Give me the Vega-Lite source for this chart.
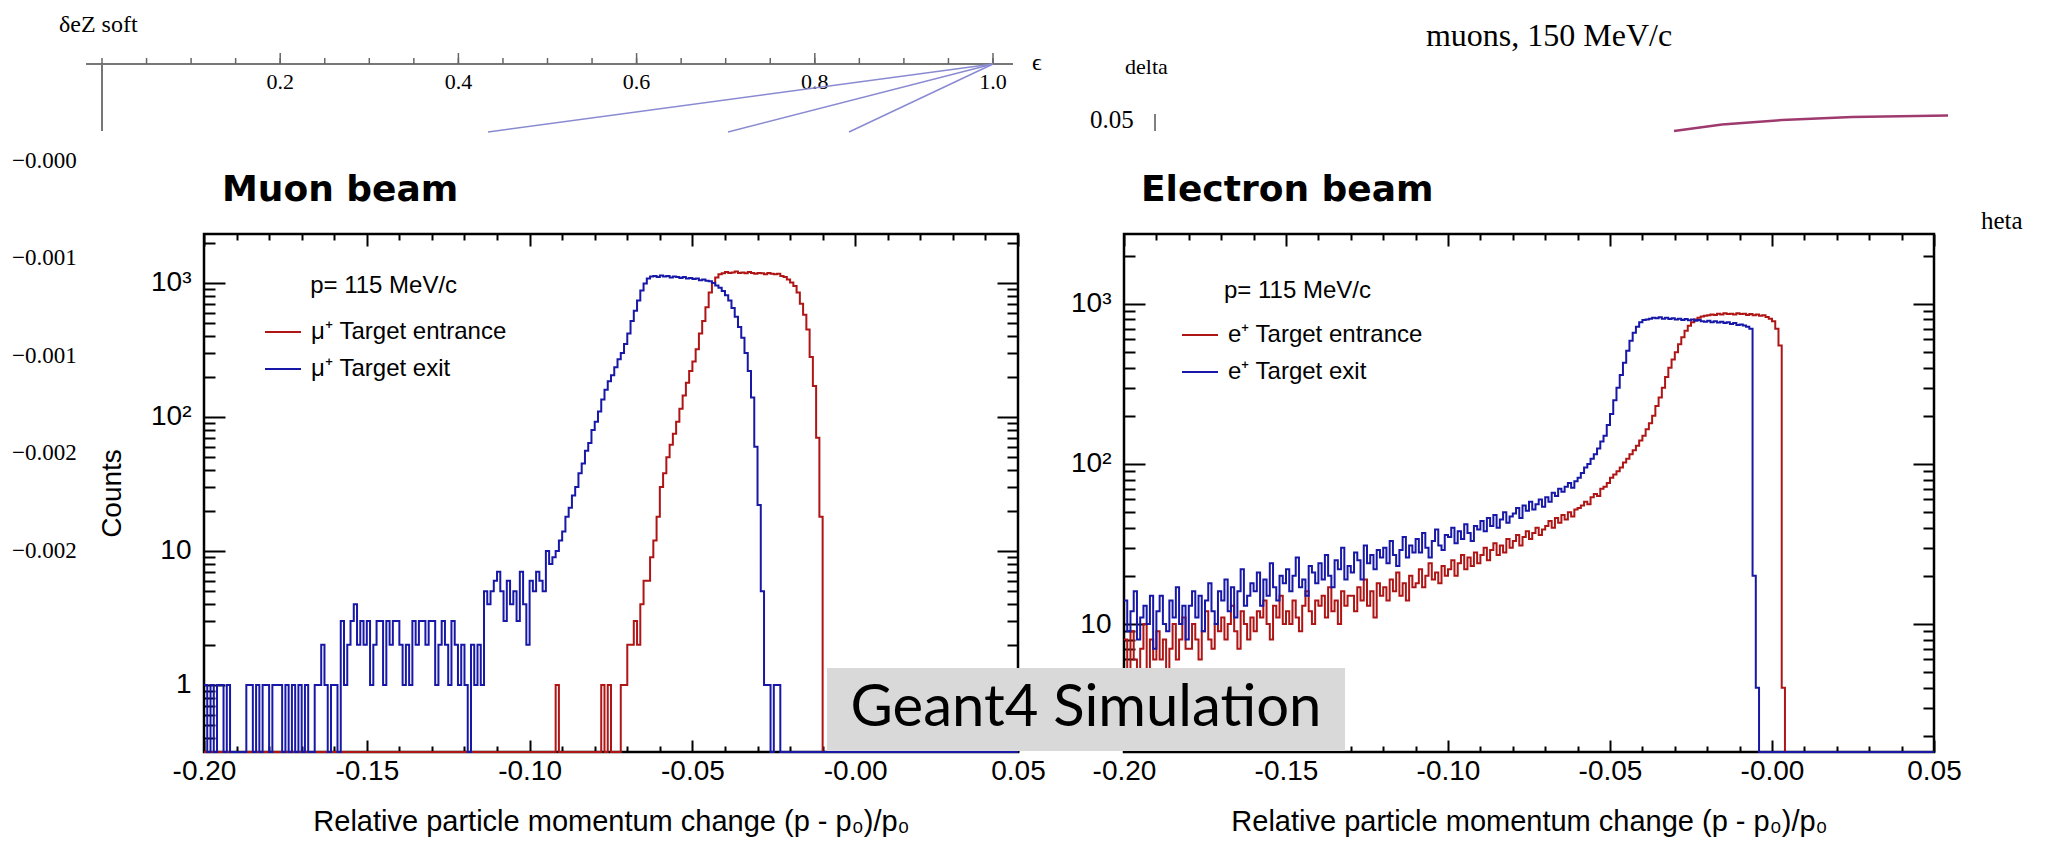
{
"$schema":"https://vega.github.io/schema/vega-lite/v6.json",
"background":"white",
"padding":{"left":10,"top":11,"right":5,"bottom":5},
"config":{
 "view":{"stroke":"black","strokeWidth":2.5},
 "axis":{"domain":false,"grid":false,"labelFont":"Liberation Sans","titleFont":"Liberation Sans","labelColor":"black","titleColor":"black","tickColor":"black","tickWidth":2,"labelFontSize":28,"titleFontSize":29,"titleFontWeight":"normal","labelFlush":false,"labelOverlap":false,"labelBound":false},
 "text":{"color":"black"}
},
"datasets":{
"h":[
{"x":-0.2,"a":0,"b":1,"c":8,"d":14},{"x":-0.199,"a":0,"b":0,"c":5,"d":9},{"x":-0.198,"a":0,"b":1,"c":9,"d":12},{"x":-0.197,"a":0,"b":0,"c":6,"d":16},{"x":-0.196,"a":0,"b":1,"c":4,"d":8},{"x":-0.195,"a":0,"b":1,"c":7,"d":11},{"x":-0.194,"a":0,"b":0,"c":10,"d":13},{"x":-0.193,"a":0,"b":1,"c":5,"d":10},{"x":-0.192,"a":0,"b":0,"c":8,"d":15},{"x":-0.191,"a":0,"b":0,"c":6,"d":7},
{"x":-0.19,"a":0,"b":0,"c":9,"d":12},{"x":-0.189,"a":0,"b":0,"c":6,"d":15},{"x":-0.188,"a":0,"b":0,"c":8,"d":10},{"x":-0.187,"a":0,"b":1,"c":5,"d":9},{"x":-0.186,"a":0,"b":1,"c":7,"d":14},{"x":-0.185,"a":0,"b":0,"c":10,"d":11},{"x":-0.184,"a":0,"b":1,"c":6,"d":17},{"x":-0.183,"a":0,"b":0,"c":8,"d":10},{"x":-0.182,"a":0,"b":1,"c":11,"d":13},{"x":-0.181,"a":0,"b":1,"c":7,"d":8},
{"x":-0.18,"a":0,"b":0,"c":7,"d":13},{"x":-0.179,"a":0,"b":1,"c":10,"d":16},{"x":-0.178,"a":0,"b":1,"c":8,"d":11},{"x":-0.177,"a":0,"b":1,"c":6,"d":15},{"x":-0.176,"a":0,"b":0,"c":9,"d":9},{"x":-0.175,"a":0,"b":1,"c":12,"d":14},{"x":-0.174,"a":0,"b":0,"c":8,"d":18},{"x":-0.173,"a":0,"b":1,"c":7,"d":12},{"x":-0.172,"a":0,"b":0,"c":10,"d":10},{"x":-0.171,"a":0,"b":1,"c":9,"d":16},
{"x":-0.17,"a":0,"b":0,"c":11,"d":14},{"x":-0.169,"a":0,"b":1,"c":8,"d":19},{"x":-0.168,"a":0,"b":0,"c":10,"d":12},{"x":-0.167,"a":0,"b":0,"c":13,"d":17},{"x":-0.166,"a":0,"b":1,"c":9,"d":11},{"x":-0.165,"a":0,"b":1,"c":7,"d":16},{"x":-0.164,"a":0,"b":2,"c":12,"d":22},{"x":-0.163,"a":0,"b":1,"c":10,"d":13},{"x":-0.162,"a":0,"b":0,"c":8,"d":15},{"x":-0.161,"a":0,"b":1,"c":11,"d":18},
{"x":-0.16,"a":0,"b":1,"c":9,"d":16},{"x":-0.159,"a":0,"b":0,"c":12,"d":21},{"x":-0.158,"a":0,"b":3,"c":11,"d":13},{"x":-0.157,"a":0,"b":1,"c":14,"d":19},{"x":-0.156,"a":0,"b":2,"c":10,"d":15},{"x":-0.155,"a":0,"b":3,"c":8,"d":24},{"x":-0.154,"a":0,"b":4,"c":13,"d":17},{"x":-0.153,"a":0,"b":2,"c":11,"d":14},{"x":-0.152,"a":0,"b":3,"c":15,"d":20},{"x":-0.151,"a":0,"b":2,"c":10,"d":18},
{"x":-0.15,"a":0,"b":3,"c":12,"d":22},{"x":-0.149,"a":0,"b":1,"c":10,"d":16},{"x":-0.148,"a":0,"b":2,"c":14,"d":20},{"x":-0.147,"a":0,"b":3,"c":11,"d":26},{"x":-0.146,"a":0,"b":3,"c":9,"d":17},{"x":-0.145,"a":0,"b":1,"c":13,"d":19},{"x":-0.144,"a":0,"b":3,"c":16,"d":15},{"x":-0.143,"a":0,"b":2,"c":12,"d":23},{"x":-0.142,"a":0,"b":3,"c":10,"d":21},{"x":-0.141,"a":0,"b":3,"c":14,"d":18},
{"x":-0.14,"a":0,"b":2,"c":13,"d":24},{"x":-0.139,"a":0,"b":1,"c":15,"d":19},{"x":-0.138,"a":0,"b":2,"c":11,"d":27},{"x":-0.137,"a":0,"b":1,"c":17,"d":20},{"x":-0.136,"a":0,"b":3,"c":12,"d":17},{"x":-0.135,"a":0,"b":2,"c":14,"d":25},{"x":-0.134,"a":0,"b":3,"c":10,"d":22},{"x":-0.133,"a":0,"b":3,"c":16,"d":30},{"x":-0.132,"a":0,"b":2,"c":13,"d":19},{"x":-0.131,"a":0,"b":3,"c":15,"d":23},
{"x":-0.13,"a":0,"b":3,"c":15,"d":21},{"x":-0.129,"a":0,"b":1,"c":12,"d":28},{"x":-0.128,"a":0,"b":2,"c":17,"d":25},{"x":-0.127,"a":0,"b":3,"c":14,"d":19},{"x":-0.126,"a":0,"b":2,"c":19,"d":31},{"x":-0.125,"a":0,"b":1,"c":13,"d":24},{"x":-0.124,"a":0,"b":3,"c":16,"d":27},{"x":-0.123,"a":0,"b":2,"c":11,"d":22},{"x":-0.122,"a":0,"b":1,"c":18,"d":29},{"x":-0.121,"a":0,"b":2,"c":15,"d":26},
{"x":-0.12,"a":0,"b":1,"c":17,"d":30},{"x":-0.119,"a":0,"b":0,"c":14,"d":24},{"x":-0.118,"a":0,"b":2,"c":19,"d":33},{"x":-0.117,"a":0,"b":1,"c":16,"d":27},{"x":-0.116,"a":0,"b":2,"c":21,"d":23},{"x":-0.115,"a":0,"b":1,"c":15,"d":29},{"x":-0.114,"a":0,"b":5,"c":18,"d":35},{"x":-0.113,"a":0,"b":4,"c":14,"d":26},{"x":-0.112,"a":0,"b":5,"c":20,"d":31},{"x":-0.111,"a":0,"b":6,"c":17,"d":28},
{"x":-0.11,"a":0,"b":7,"c":18,"d":34},{"x":-0.109,"a":0,"b":5,"c":22,"d":28},{"x":-0.108,"a":0,"b":3,"c":17,"d":37},{"x":-0.107,"a":0,"b":6,"c":20,"d":30},{"x":-0.106,"a":0,"b":4,"c":24,"d":26},{"x":-0.105,"a":0,"b":5,"c":19,"d":33},{"x":-0.104,"a":0,"b":3,"c":21,"d":39},{"x":-0.103,"a":0,"b":7,"c":18,"d":31},{"x":-0.102,"a":0,"b":4,"c":23,"d":29},{"x":-0.101,"a":0,"b":2,"c":20,"d":36},
{"x":-0.1,"a":0,"b":6,"c":22,"d":35},{"x":-0.099,"a":0,"b":5,"c":25,"d":40},{"x":-0.098,"a":0,"b":7,"c":20,"d":32},{"x":-0.097,"a":0,"b":6,"c":24,"d":38},{"x":-0.096,"a":0,"b":5,"c":27,"d":34},{"x":-0.095,"a":0,"b":10,"c":22,"d":42},{"x":-0.094,"a":0,"b":8,"c":26,"d":37},{"x":-0.093,"a":0,"b":9,"c":23,"d":33},{"x":-0.092,"a":1,"b":10,"c":28,"d":41},{"x":-0.091,"a":0,"b":12,"c":24,"d":39},
{"x":-0.09,"a":0,"b":14,"c":27,"d":44},{"x":-0.089,"a":0,"b":18,"c":30,"d":38},{"x":-0.088,"a":0,"b":21,"c":25,"d":46},{"x":-0.087,"a":0,"b":26,"c":29,"d":41},{"x":-0.086,"a":0,"b":30,"c":32,"d":48},{"x":-0.085,"a":0,"b":38,"c":27,"d":40},{"x":-0.084,"a":0,"b":45,"c":31,"d":45},{"x":-0.083,"a":0,"b":56,"c":28,"d":50},{"x":-0.082,"a":0,"b":64,"c":34,"d":43},{"x":-0.081,"a":0,"b":80,"c":30,"d":47},
{"x":-0.08,"a":0,"b":92,"c":33,"d":49},{"x":-0.079,"a":0,"b":110,"c":36,"d":53},{"x":-0.078,"a":1,"b":135,"c":31,"d":46},{"x":-0.077,"a":0,"b":160,"c":35,"d":55},{"x":-0.076,"a":1,"b":185,"c":38,"d":51},{"x":-0.075,"a":0,"b":205,"c":34,"d":58},{"x":-0.074,"a":0,"b":235,"c":37,"d":52},{"x":-0.073,"a":0,"b":270,"c":40,"d":56},{"x":-0.072,"a":1,"b":300,"c":36,"d":60},{"x":-0.071,"a":1,"b":350,"c":39,"d":54},
{"x":-0.07,"a":2,"b":420,"c":41,"d":62},{"x":-0.069,"a":2,"b":520,"c":44,"d":58},{"x":-0.068,"a":3,"b":620,"c":40,"d":66},{"x":-0.067,"a":2,"b":740,"c":46,"d":63},{"x":-0.066,"a":4,"b":880,"c":43,"d":70},{"x":-0.065,"a":6,"b":990,"c":48,"d":67},{"x":-0.064,"a":6,"b":1080,"c":45,"d":72},{"x":-0.063,"a":9,"b":1120,"c":50,"d":76},{"x":-0.062,"a":12,"b":1130,"c":47,"d":71},{"x":-0.061,"a":18,"b":1110,"c":52,"d":78},
{"x":-0.06,"a":30,"b":1140,"c":53,"d":82},{"x":-0.059,"a":38,"b":1120,"c":55,"d":88},{"x":-0.058,"a":50,"b":1130,"c":58,"d":95},{"x":-0.057,"a":62,"b":1100,"c":56,"d":100},{"x":-0.056,"a":75,"b":1120,"c":62,"d":108},{"x":-0.055,"a":92,"b":1110,"c":65,"d":115},{"x":-0.054,"a":115,"b":1090,"c":63,"d":125},{"x":-0.053,"a":145,"b":1110,"c":70,"d":138},{"x":-0.052,"a":180,"b":1080,"c":72,"d":150},{"x":-0.051,"a":220,"b":1090,"c":76,"d":175},
{"x":-0.05,"a":260,"b":1070,"c":82,"d":205},{"x":-0.049,"a":320,"b":1080,"c":86,"d":250},{"x":-0.048,"a":420,"b":1050,"c":90,"d":300},{"x":-0.047,"a":520,"b":1060,"c":95,"d":360},{"x":-0.046,"a":660,"b":1040,"c":102,"d":430},{"x":-0.045,"a":850,"b":1030,"c":108,"d":510},{"x":-0.044,"a":1000,"b":1000,"c":115,"d":590},{"x":-0.043,"a":1100,"b":960,"c":122,"d":660},{"x":-0.042,"a":1160,"b":920,"c":130,"d":720},{"x":-0.041,"a":1180,"b":870,"c":140,"d":770},
{"x":-0.04,"a":1210,"b":810,"c":150,"d":795},{"x":-0.039,"a":1190,"b":740,"c":165,"d":800},{"x":-0.038,"a":1200,"b":650,"c":180,"d":810},{"x":-0.037,"a":1220,"b":560,"c":200,"d":820},{"x":-0.036,"a":1190,"b":470,"c":230,"d":815},{"x":-0.035,"a":1200,"b":390,"c":260,"d":825},{"x":-0.034,"a":1180,"b":300,"c":300,"d":810},{"x":-0.033,"a":1210,"b":220,"c":350,"d":820},{"x":-0.032,"a":1190,"b":140,"c":400,"d":805},{"x":-0.031,"a":1170,"b":60,"c":450,"d":815},
{"x":-0.03,"a":1190,"b":22,"c":500,"d":800},{"x":-0.029,"a":1180,"b":5,"c":560,"d":810},{"x":-0.028,"a":1160,"b":1,"c":620,"d":795},{"x":-0.027,"a":1190,"b":1,"c":680,"d":805},{"x":-0.026,"a":1170,"b":0,"c":730,"d":790},{"x":-0.025,"a":1160,"b":1,"c":770,"d":800},{"x":-0.024,"a":1170,"b":1,"c":800,"d":785},{"x":-0.023,"a":1130,"b":0,"c":820,"d":795},{"x":-0.022,"a":1110,"b":0,"c":835,"d":780},{"x":-0.021,"a":1060,"b":0,"c":845,"d":775},
{"x":-0.02,"a":1010,"b":0,"c":850,"d":785},{"x":-0.019,"a":950,"b":0,"c":860,"d":770},{"x":-0.018,"a":850,"b":0,"c":855,"d":780},{"x":-0.017,"a":700,"b":0,"c":870,"d":765},{"x":-0.016,"a":580,"b":0,"c":860,"d":775},{"x":-0.015,"a":450,"b":0,"c":875,"d":760},{"x":-0.014,"a":280,"b":0,"c":865,"d":770},{"x":-0.013,"a":170,"b":0,"c":870,"d":750},{"x":-0.012,"a":70,"b":0,"c":860,"d":760},{"x":-0.011,"a":18,"b":0,"c":875,"d":740},
{"x":-0.01,"a":0,"b":0,"c":865,"d":745},{"x":-0.009,"a":0,"b":0,"c":870,"d":735},{"x":-0.008,"a":0,"b":0,"c":855,"d":720},{"x":-0.007,"a":0,"b":0,"c":865,"d":700},{"x":-0.006,"a":0,"b":0,"c":850,"d":20},{"x":-0.005,"a":0,"b":0,"c":860,"d":4},{"x":-0.004,"a":0,"b":0,"c":845,"d":0},{"x":-0.003,"a":0,"b":0,"c":850,"d":0},{"x":-0.002,"a":0,"b":0,"c":830,"d":0},{"x":-0.001,"a":0,"b":0,"c":810,"d":0},
{"x":0,"a":0,"b":0,"c":780,"d":0},{"x":0.001,"a":0,"b":0,"c":700,"d":0},{"x":0.002,"a":0,"b":0,"c":550,"d":0},{"x":0.003,"a":0,"b":0,"c":4,"d":0},{"x":0.004,"a":0,"b":0,"c":0,"d":0},{"x":0.05,"a":0,"b":0,"c":0,"d":0}
],
"te":[{"e":0},{"e":0.05},{"e":0.1},{"e":0.15},{"e":0.2},{"e":0.25},{"e":0.3},{"e":0.35},{"e":0.4},{"e":0.45},{"e":0.5},{"e":0.55},{"e":0.6},{"e":0.65},{"e":0.7},{"e":0.75},{"e":0.8},{"e":0.85},{"e":0.9},{"e":0.95},{"e":1.0}]
},
"resolve":{"scale":{"color":"independent"}},
"bounds":"flush",
"spacing":106,
"hconcat":[
{
"width":814,"height":518,
"resolve":{"scale":{"x":"independent","y":"independent"}},
"layer":[
 {"layer":[
  {"data":{"values":[{}]},"mark":{"type":"text","font":"Liberation Serif","fontSize":24,"align":"left","baseline":"alphabetic"},
   "encoding":{"x":{"datum":-0.04826,"type":"quantitative","scale":{"domain":[0.114478,1.028058],"nice":false,"zero":false},"axis":null},
               "y":{"datum":4.8731,"type":"quantitative","scale":{"domain":[-0.5,3.3657],"nice":false,"zero":false},"axis":null},
               "text":{"value":"δeZ soft"}}},
  {"data":{"values":[{}]},"mark":{"type":"text","font":"DejaVu Sans","fontWeight":"bold","fontSize":36,"align":"left","baseline":"alphabetic"},
   "encoding":{"x":{"datum":0.13468,"type":"quantitative","axis":null},"y":{"datum":3.6119,"type":"quantitative","axis":null},"text":{"value":"Muon beam"}}},
  {"data":{"values":[{}]},"mark":{"type":"text","font":"Liberation Serif","fontSize":24,"align":"left","baseline":"alphabetic"},
   "encoding":{"x":{"datum":1.0438,"type":"quantitative","axis":null},"y":{"datum":4.5896,"type":"quantitative","axis":null},"text":{"value":"ϵ"}}},
  {"data":{"values":[{}]},"mark":{"type":"text","font":"Liberation Serif","fontSize":23,"align":"left","baseline":"alphabetic"},
   "encoding":{"x":{"datum":-0.10101,"type":"quantitative","axis":null},"y":{"datum":3.8582,"type":"quantitative","axis":null},"text":{"value":"−0.000"}}},
  {"data":{"values":[{}]},"mark":{"type":"text","font":"Liberation Serif","fontSize":23,"align":"left","baseline":"alphabetic"},
   "encoding":{"x":{"datum":-0.10101,"type":"quantitative","axis":null},"y":{"datum":3.1343,"type":"quantitative","axis":null},"text":{"value":"−0.001"}}},
  {"data":{"values":[{}]},"mark":{"type":"text","font":"Liberation Serif","fontSize":23,"align":"left","baseline":"alphabetic"},
   "encoding":{"x":{"datum":-0.10101,"type":"quantitative","axis":null},"y":{"datum":2.4030,"type":"quantitative","axis":null},"text":{"value":"−0.001"}}},
  {"data":{"values":[{}]},"mark":{"type":"text","font":"Liberation Serif","fontSize":23,"align":"left","baseline":"alphabetic"},
   "encoding":{"x":{"datum":-0.10101,"type":"quantitative","axis":null},"y":{"datum":1.6791,"type":"quantitative","axis":null},"text":{"value":"−0.002"}}},
  {"data":{"values":[{}]},"mark":{"type":"text","font":"Liberation Serif","fontSize":23,"align":"left","baseline":"alphabetic"},
   "encoding":{"x":{"datum":-0.10101,"type":"quantitative","axis":null},"y":{"datum":0.9478,"type":"quantitative","axis":null},"text":{"value":"−0.002"}}},
  {"data":{"values":[{}]},"mark":{"type":"rule","color":"#777777","strokeWidth":2},
   "encoding":{"x":{"datum":-0.01796,"type":"quantitative","axis":null},"x2":{"datum":1.02245},"y":{"datum":4.63433,"type":"quantitative","axis":null},"y2":{"datum":4.63433}}},
  {"data":{"values":[{}]},"mark":{"type":"rule","color":"#777777","strokeWidth":2},
   "encoding":{"x":{"datum":0,"type":"quantitative","axis":null},"y":{"datum":4.63433,"type":"quantitative","axis":null},"y2":{"datum":4.1343}}},
  {"data":{"name":"te"},"mark":{"type":"rule","color":"#666666","strokeWidth":1.5},
   "encoding":{"x":{"field":"e","type":"quantitative","axis":null},"y":{"datum":4.63433,"type":"quantitative","axis":null},"y2":{"datum":4.6791}}},
  {"data":{"name":"te"},"transform":[{"filter":"abs(datum.e*5 - round(datum.e*5)) < 0.000001 && datum.e > 0"}],"mark":{"type":"rule","color":"#666666","strokeWidth":1.5},
   "encoding":{"x":{"field":"e","type":"quantitative","axis":null},"y":{"datum":4.63433,"type":"quantitative","axis":null},"y2":{"datum":4.7164}}},
  {"data":{"name":"te"},"transform":[{"filter":"abs(datum.e*5 - round(datum.e*5)) < 0.000001 && datum.e > 0"}],"mark":{"type":"text","font":"Liberation Serif","fontSize":22,"align":"center","baseline":"alphabetic"},
   "encoding":{"x":{"field":"e","type":"quantitative","axis":null},"y":{"datum":4.4478,"type":"quantitative","axis":null},"text":{"field":"e","type":"quantitative","format":".1f"}}},
  {"data":{"values":[{}]},"mark":{"type":"rule","color":"#8a8ad2","strokeWidth":1.5},
   "encoding":{"x":{"datum":1.0,"type":"quantitative","axis":null},"x2":{"datum":0.4332},"y":{"datum":4.63433,"type":"quantitative","axis":null},"y2":{"datum":4.1269}}},
  {"data":{"values":[{}]},"mark":{"type":"rule","color":"#8a8ad2","strokeWidth":1.5},
   "encoding":{"x":{"datum":1.0,"type":"quantitative","axis":null},"x2":{"datum":0.7026},"y":{"datum":4.63433,"type":"quantitative","axis":null},"y2":{"datum":4.1269}}},
  {"data":{"values":[{}]},"mark":{"type":"rule","color":"#8a8ad2","strokeWidth":1.5},
   "encoding":{"x":{"datum":1.0,"type":"quantitative","axis":null},"x2":{"datum":0.8384},"y":{"datum":4.63433,"type":"quantitative","axis":null},"y2":{"datum":4.1269}}}
 ]},
 {"layer":[
  {"data":{"name":"h"},"transform":[{"fold":["a","b"],"as":["s","n"]}],
   "mark":{"type":"line","interpolate":"step-after","strokeWidth":2},
   "encoding":{
    "x":{"field":"x","type":"quantitative","scale":{"domain":[-0.2,0.05],"nice":false,"zero":false},
      "axis":{"orient":"bottom","values":[-0.2,-0.19,-0.18,-0.17,-0.16,-0.15,-0.14,-0.13,-0.12,-0.11,-0.1,-0.09,-0.08,-0.07,-0.06,-0.05,-0.04,-0.03,-0.02,-0.01,0,0.01,0.02,0.03,0.04,0.05],
        "labelExpr":"abs(datum.value*20 - round(datum.value*20)) > 0.000001 ? '' : (datum.value == 0 ? '-0.00' : (datum.value < 0 ? '-' + format(-datum.value, '.2f') : format(datum.value, '.2f')))",
        "tickSize":{"condition":{"test":"abs(datum.value*20 - round(datum.value*20)) < 0.000001","value":-12},"value":-6},
        "labelPadding":17,"title":"Relative particle momentum change (p - p₀)/p₀","titlePadding":16}},
    "y":{"field":"n","type":"quantitative","scale":{"type":"log","domain":[0.3162,2321],"clamp":true,"nice":false},
      "axis":{"orient":"left","values":[0.4,0.5,0.6,0.7,0.8,0.9,1,2,3,4,5,6,7,8,9,10,20,30,40,50,60,70,80,90,100,200,300,400,500,600,700,800,900,1000,2000],
        "labelExpr":"datum.value == 1000 ? '10³' : datum.value == 100 ? '10²' : datum.value == 10 ? '10' : datum.value == 1 ? '1' : ''",
        "tickSize":{"condition":{"test":"datum.value == 1 || datum.value == 10 || datum.value == 100 || datum.value == 1000","value":-21},"value":-11},
        "labelPadding":34,"title":"Counts","titleFontSize":28,"titlePadding":24}},
    "color":{"field":"s","type":"nominal","scale":{"domain":["a","b"],"range":["#b01515","#1818a8"]},
      "legend":{"orient":"none","legendX":60,"legendY":79,"title":null,"symbolType":"stroke","symbolSize":1296,"symbolStrokeWidth":2,"labelFont":"Liberation Sans","labelFontSize":24,"labelColor":"black","labelOffset":9,"labelLimit":500,"rowPadding":6,"padding":0,
        "labelExpr":"datum.value == 'a' ? 'μ⁺ Target entrance' : 'μ⁺ Target exit'"}}
   }},
  {"data":{"values":[{}]},"mark":{"type":"point","opacity":0},
   "encoding":{
    "x":{"datum":0,"type":"quantitative","axis":{"orient":"top","labels":false,"title":null,"values":[-0.2,-0.19,-0.18,-0.17,-0.16,-0.15,-0.14,-0.13,-0.12,-0.11,-0.1,-0.09,-0.08,-0.07,-0.06,-0.05,-0.04,-0.03,-0.02,-0.01,0,0.01,0.02,0.03,0.04,0.05],
        "tickSize":{"condition":{"test":"abs(datum.value*20 - round(datum.value*20)) < 0.000001","value":-12},"value":-6}}},
    "y":{"datum":1,"type":"quantitative","axis":{"orient":"right","labels":false,"title":null,"values":[0.4,0.5,0.6,0.7,0.8,0.9,1,2,3,4,5,6,7,8,9,10,20,30,40,50,60,70,80,90,100,200,300,400,500,600,700,800,900,1000,2000],
        "tickSize":{"condition":{"test":"datum.value == 1 || datum.value == 10 || datum.value == 100 || datum.value == 1000","value":-21},"value":-11}}}
   }},
  {"data":{"values":[{}]},"mark":{"type":"text","font":"Liberation Sans","fontSize":24,"align":"left","baseline":"middle"},
   "encoding":{"x":{"datum":-0.1674,"type":"quantitative","axis":null},"y":{"datum":950,"type":"quantitative","axis":null},"text":{"value":"p= 115 MeV/c"}}}
 ]}
]
},
{
"width":810,"height":518,
"resolve":{"scale":{"x":"independent","y":"independent"}},
"layer":[
 {"layer":[
  {"data":{"values":[{}]},"mark":{"type":"text","font":"DejaVu Sans","fontWeight":"bold","fontSize":36,"align":"left","baseline":"alphabetic"},
   "encoding":{"x":{"datum":-0.19475,"type":"quantitative","scale":{"domain":[-0.2,0.05],"nice":false,"zero":false},"axis":null},
               "y":{"datum":3.64375,"type":"quantitative","scale":{"domain":[0.2,3.4375],"nice":false,"zero":false},"axis":null},
               "text":{"value":"Electron beam"}}},
  {"data":{"values":[{}]},"mark":{"type":"text","font":"Liberation Serif","fontSize":32,"align":"center","baseline":"alphabetic"},
   "encoding":{"x":{"datum":-0.06883,"type":"quantitative","axis":null},"y":{"datum":4.6125,"type":"quantitative","axis":null},"text":{"value":"muons, 150 MeV/c"}}},
  {"data":{"values":[{}]},"mark":{"type":"text","font":"Liberation Serif","fontSize":22,"align":"left","baseline":"alphabetic"},
   "encoding":{"x":{"datum":-0.19969,"type":"quantitative","axis":null},"y":{"datum":4.4375,"type":"quantitative","axis":null},"text":{"value":"delta"}}},
  {"data":{"values":[{}]},"mark":{"type":"text","font":"Liberation Serif","fontSize":25,"align":"left","baseline":"alphabetic"},
   "encoding":{"x":{"datum":-0.2105,"type":"quantitative","axis":null},"y":{"datum":4.1,"type":"quantitative","axis":null},"text":{"value":"0.05"}}},
  {"data":{"values":[{}]},"mark":{"type":"text","font":"Liberation Serif","fontSize":25,"align":"left","baseline":"alphabetic"},
   "encoding":{"x":{"datum":0.0645,"type":"quantitative","axis":null},"y":{"datum":3.46875,"type":"quantitative","axis":null},"text":{"value":"heta"}}},
  {"data":{"values":[{}]},"mark":{"type":"rule","color":"#555555","strokeWidth":1.5},
   "encoding":{"x":{"datum":-0.19043,"type":"quantitative","axis":null},"y":{"datum":4.1875,"type":"quantitative","axis":null},"y2":{"datum":4.08125}}},
  {"data":{"values":[{}]},"mark":{"type":"rule","color":"#9e3a6e","strokeWidth":2.5},
   "encoding":{"x":{"datum":-0.03025,"type":"quantitative","axis":null},"x2":{"datum":-0.01543},"y":{"datum":4.08125,"type":"quantitative","axis":null},"y2":{"datum":4.121875}}},
  {"data":{"values":[{}]},"mark":{"type":"rule","color":"#9e3a6e","strokeWidth":2.5},
   "encoding":{"x":{"datum":-0.01543,"type":"quantitative","axis":null},"x2":{"datum":0.00309},"y":{"datum":4.121875,"type":"quantitative","axis":null},"y2":{"datum":4.15}}},
  {"data":{"values":[{}]},"mark":{"type":"rule","color":"#9e3a6e","strokeWidth":2.5},
   "encoding":{"x":{"datum":0.00309,"type":"quantitative","axis":null},"x2":{"datum":0.02469},"y":{"datum":4.15,"type":"quantitative","axis":null},"y2":{"datum":4.16875}}},
  {"data":{"values":[{}]},"mark":{"type":"rule","color":"#9e3a6e","strokeWidth":2.5},
   "encoding":{"x":{"datum":0.02469,"type":"quantitative","axis":null},"x2":{"datum":0.05432},"y":{"datum":4.16875,"type":"quantitative","axis":null},"y2":{"datum":4.178125}}}
 ]},
 {"layer":[
  {"data":{"name":"h"},"transform":[{"fold":["c","d"],"as":["s","n"]}],
   "mark":{"type":"line","interpolate":"step-after","strokeWidth":2},
   "encoding":{
    "x":{"field":"x","type":"quantitative","scale":{"domain":[-0.2,0.05],"nice":false,"zero":false},
      "axis":{"orient":"bottom","values":[-0.2,-0.19,-0.18,-0.17,-0.16,-0.15,-0.14,-0.13,-0.12,-0.11,-0.1,-0.09,-0.08,-0.07,-0.06,-0.05,-0.04,-0.03,-0.02,-0.01,0,0.01,0.02,0.03,0.04,0.05],
        "labelExpr":"abs(datum.value*20 - round(datum.value*20)) > 0.000001 ? '' : (datum.value == 0 ? '-0.00' : (datum.value < 0 ? '-' + format(-datum.value, '.2f') : format(datum.value, '.2f')))",
        "tickSize":{"condition":{"test":"abs(datum.value*20 - round(datum.value*20)) < 0.000001","value":-12},"value":-6},
        "labelPadding":17,"title":"Relative particle momentum change (p - p₀)/p₀","titlePadding":16}},
    "y":{"field":"n","type":"quantitative","scale":{"type":"log","domain":[1.585,2738],"clamp":true,"nice":false},
      "axis":{"orient":"left","values":[2,3,4,5,6,7,8,9,10,20,30,40,50,60,70,80,90,100,200,300,400,500,600,700,800,900,1000,2000],
        "labelExpr":"datum.value == 1000 ? '10³' : datum.value == 100 ? '10²' : datum.value == 10 ? '10' : ''",
        "tickSize":{"condition":{"test":"datum.value == 10 || datum.value == 100 || datum.value == 1000","value":-21},"value":-11},
        "labelPadding":34,"title":null}},
    "color":{"field":"s","type":"nominal","scale":{"domain":["c","d"],"range":["#b01515","#1818a8"]},
      "legend":{"orient":"none","legendX":57,"legendY":82,"title":null,"symbolType":"stroke","symbolSize":1296,"symbolStrokeWidth":2,"labelFont":"Liberation Sans","labelFontSize":24,"labelColor":"black","labelOffset":9,"labelLimit":500,"rowPadding":6,"padding":0,
        "labelExpr":"datum.value == 'c' ? 'e⁺ Target entrance' : 'e⁺ Target exit'"}}
   }},
  {"data":{"values":[{}]},"mark":{"type":"point","opacity":0},
   "encoding":{
    "x":{"datum":0,"type":"quantitative","axis":{"orient":"top","labels":false,"title":null,"values":[-0.2,-0.19,-0.18,-0.17,-0.16,-0.15,-0.14,-0.13,-0.12,-0.11,-0.1,-0.09,-0.08,-0.07,-0.06,-0.05,-0.04,-0.03,-0.02,-0.01,0,0.01,0.02,0.03,0.04,0.05],
        "tickSize":{"condition":{"test":"abs(datum.value*20 - round(datum.value*20)) < 0.000001","value":-12},"value":-6}}},
    "y":{"datum":10,"type":"quantitative","axis":{"orient":"right","labels":false,"title":null,"values":[2,3,4,5,6,7,8,9,10,20,30,40,50,60,70,80,90,100,200,300,400,500,600,700,800,900,1000,2000],
        "tickSize":{"condition":{"test":"datum.value == 10 || datum.value == 100 || datum.value == 1000","value":-21},"value":-11}}}
   }},
  {"data":{"values":[{}]},"mark":{"type":"text","font":"Liberation Sans","fontSize":24,"align":"left","baseline":"middle"},
   "encoding":{"x":{"datum":-0.16914,"type":"quantitative","axis":null},"y":{"datum":1206,"type":"quantitative","axis":null},"text":{"value":"p= 115 MeV/c"}}},
  {"data":{"values":[{}]},"mark":{"type":"rect","color":"#d9d9d9"},
   "encoding":{"x":{"datum":-0.29167,"type":"quantitative","axis":null},"x2":{"datum":-0.13179},"y":{"datum":1.608,"type":"quantitative","axis":null},"y2":{"datum":5.309}}},
  {"data":{"values":[{}]},"mark":{"type":"text","font":"Lato","fontSize":58,"align":"center","baseline":"alphabetic"},
   "encoding":{"x":{"datum":-0.21173,"type":"quantitative","axis":null},"y":{"datum":2.3041,"type":"quantitative","axis":null},"text":{"value":"Geant4 Simulation"}}}
 ]}
]
}
]
}
